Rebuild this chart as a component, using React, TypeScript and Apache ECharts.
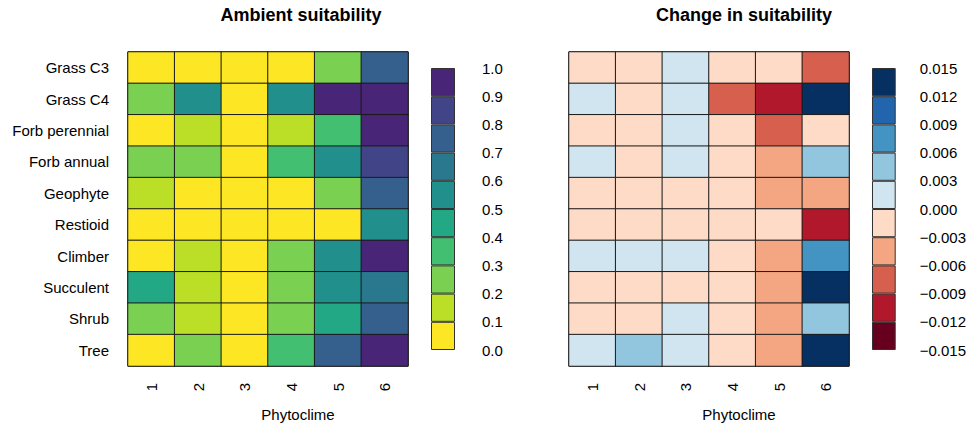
import React, { useEffect, useRef } from "react";
import * as echarts from "echarts";

const rows = ["Grass C3", "Grass C4", "Forb perennial", "Forb annual", "Geophyte", "Restioid", "Climber", "Succulent", "Shrub", "Tree"];
const phytoclimes = ["1", "2", "3", "4", "5", "6"];

const ambient = [
  [0.02, 0.03, 0.01, 0.05, 0.25, 0.75],
  [0.24, 0.55, 0.04, 0.55, 0.93, 0.95],
  [0.03, 0.15, 0.02, 0.14, 0.36, 0.94],
  [0.26, 0.22, 0.04, 0.35, 0.57, 0.85],
  [0.13, 0.05, 0.03, 0.06, 0.27, 0.74],
  [0.02, 0.04, 0.03, 0.05, 0.08, 0.54],
  [0.06, 0.16, 0.04, 0.23, 0.55, 0.92],
  [0.45, 0.14, 0.05, 0.28, 0.56, 0.65],
  [0.25, 0.13, 0.03, 0.24, 0.46, 0.73],
  [0.04, 0.27, 0.02, 0.34, 0.76, 0.96],
];

const change = [
  [-0.001, -0.002, 0.001, -0.001, -0.002, -0.007],
  [0.001, -0.001, 0.002, -0.008, -0.011, 0.014],
  [-0.001, -0.002, 0.001, -0.002, -0.007, -0.001],
  [0.002, -0.001, 0.001, -0.002, -0.004, 0.005],
  [-0.001, -0.001, -0.002, -0.001, -0.005, -0.004],
  [-0.002, -0.001, -0.001, -0.002, -0.001, -0.010],
  [0.001, 0.002, 0.001, -0.001, -0.004, 0.007],
  [-0.001, -0.002, -0.001, -0.002, -0.005, 0.013],
  [-0.001, -0.001, 0.001, -0.002, -0.004, 0.005],
  [0.001, 0.004, 0.002, -0.001, -0.005, 0.014],
];

// bin edges (bottom to top) and palettes
const ambientBreaks = [0, 0.1, 0.2, 0.3, 0.4, 0.5, 0.6, 0.7, 0.8, 0.9, 1.0];
const ambientColors = ["#FDE725", "#BBDF27", "#7AD151", "#43BF71", "#22A884", "#21908C", "#2A788E", "#35608D", "#414487", "#482576"];
const changeBreaks = [-0.015, -0.012, -0.009, -0.006, -0.003, 0, 0.003, 0.006, 0.009, 0.012, 0.015];
const changeColors = ["#67001F", "#B2182B", "#D6604D", "#F4A582", "#FDDBC7", "#D1E5F0", "#92C5DE", "#4393C3", "#2166AC", "#053061"];

const FONT = "'Liberation Sans', Arial, Helvetica, sans-serif";

function toCells(m: number[][]) {
  const out: number[][] = [];
  m.forEach((r, yi) => r.forEach((v, xi) => out.push([xi, yi, v])));
  return out;
}

function pieces(breaks: number[], colors: string[]) {
  return colors.map((c, i) => ({ gte: breaks[i], lt: breaks[i + 1] + (i === colors.length - 1 ? 1e-9 : 0), color: c }));
}

function buildOption() {
  const hmLeft = [128, 569];
  const legLeft = [431, 872];
  const grid: any[] = [
    { left: hmLeft[0], top: 52, width: 280, height: 314, show: true, borderColor: "#000", borderWidth: 1, backgroundColor: "transparent" },
    { left: hmLeft[1], top: 52, width: 280, height: 314, show: true, borderColor: "#000", borderWidth: 1, backgroundColor: "transparent" },
    { left: legLeft[0], top: 68, width: 24, height: 282 },
    { left: legLeft[1], top: 68, width: 24, height: 282 },
  ];
  const catX = (gi: number) => ({
    type: "category",
    gridIndex: gi,
    data: phytoclimes,
    axisLine: { show: false },
    axisTick: { show: false },
    splitLine: { show: false },
    axisLabel: { rotate: 90, margin: 17, fontSize: 15, color: "#000", fontFamily: FONT },
  });
  const catY = (gi: number, showLabels: boolean) => ({
    type: "category",
    gridIndex: gi,
    data: rows,
    inverse: true,
    axisLine: { show: false },
    axisTick: { show: false },
    splitLine: { show: false },
    axisLabel: { show: showLabels, margin: 19, fontSize: 15, color: "#000", fontFamily: FONT },
  });
  const legX = (gi: number) => ({ type: "category", gridIndex: gi, data: [""], show: false });
  const legYHidden = (gi: number) => ({ type: "value", gridIndex: gi, min: 0, max: 10, show: false });
  const legYLabels = (gi: number, min: number, max: number, interval: number, margin: number, fmt: (v: number) => string) => ({
    type: "value",
    gridIndex: gi,
    position: "right",
    min,
    max,
    interval,
    axisLine: { show: false },
    axisTick: { show: false },
    splitLine: { show: false },
    axisLabel: { margin, fontSize: 15, color: "#000", fontFamily: FONT, formatter: fmt },
  });

  const fmtAmbient = (v: number) => v.toFixed(1);
  const fmtChange = (v: number) => {
    const s = Math.abs(v) < 1e-9 ? "0.000" : v.toFixed(3);
    return s.replace("-", "\u2212");
  };

  const series: any[] = [
    {
      type: "heatmap",
      xAxisIndex: 0,
      yAxisIndex: 0,
      data: toCells(ambient),
      itemStyle: { borderColor: "#1a1a1a", borderWidth: 1 },
      emphasis: { disabled: true },
    },
    {
      type: "heatmap",
      xAxisIndex: 1,
      yAxisIndex: 1,
      data: toCells(change),
      itemStyle: { borderColor: "#1a1a1a", borderWidth: 1 },
      emphasis: { disabled: true },
    },
  ];
  ambientColors.forEach((c) => {
    series.push({
      type: "bar",
      xAxisIndex: 2,
      yAxisIndex: 2,
      stack: "legA",
      data: [1],
      barWidth: "100%",
      itemStyle: { color: c, borderColor: "#333", borderWidth: 1 },
      emphasis: { disabled: true },
    });
  });
  changeColors.forEach((c) => {
    series.push({
      type: "bar",
      xAxisIndex: 3,
      yAxisIndex: 4,
      stack: "legB",
      data: [1],
      barWidth: "100%",
      itemStyle: { color: c, borderColor: "#333", borderWidth: 1 },
      emphasis: { disabled: true },
    });
  });

  const text = (x: number, y: number, t: string, size: number, weight: string) => ({
    type: "text",
    x,
    y,
    style: { text: t, fill: "#000", font: `${weight} ${size}px ${FONT}`, textAlign: "center", textVerticalAlign: "middle" },
  });

  return {
    animation: false,
    backgroundColor: "#fff",
    grid,
    xAxis: [catX(0), catX(1), legX(2), legX(3)],
    yAxis: [
      catY(0, true),
      catY(1, false),
      legYHidden(2),
      legYLabels(2, 0, 1, 0.1, 27, fmtAmbient),
      legYHidden(3),
      legYLabels(3, -0.015, 0.015, 0.003, 24, fmtChange),
    ],
    visualMap: [
      { type: "piecewise", show: false, seriesIndex: 0, dimension: 2, pieces: pieces(ambientBreaks, ambientColors) },
      { type: "piecewise", show: false, seriesIndex: 1, dimension: 2, pieces: pieces(changeBreaks, changeColors) },
    ],
    graphic: [
      text(301, 15, "Ambient suitability", 18, "bold"),
      text(744, 15, "Change in suitability", 18, "bold"),
      text(298, 414, "Phytoclime", 15, "normal"),
      text(739, 414, "Phytoclime", 15, "normal"),
    ],
    series,
  };
}

export default function App() {
  const ref = useRef<HTMLDivElement>(null);
  useEffect(() => {
    if (!ref.current) return;
    const chart = echarts.init(ref.current, null, { renderer: "svg" });
    chart.setOption(buildOption() as any);
    return () => chart.dispose();
  }, []);
  return <div ref={ref} style={{ position: "absolute", left: 0, top: 0, width: 969, height: 428 }} />;
}
